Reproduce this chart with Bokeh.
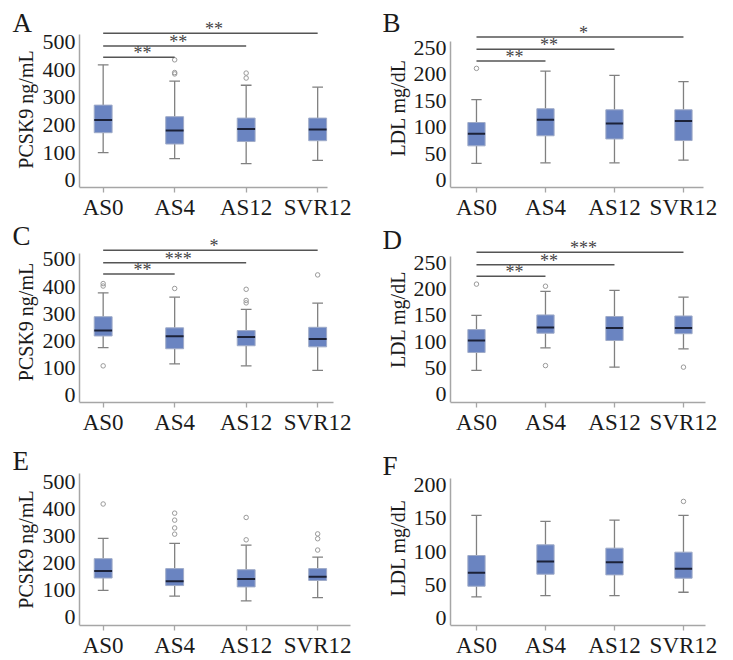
import math
from bokeh.plotting import figure
from bokeh.layouts import column, row
from bokeh.models import Range1d, FixedTicker, Label, ColumnDataSource
from bokeh.core.properties import value
from bokeh.embed import file_html
from bokeh.resources import INLINE

categories = ["AS0", "AS4", "AS12", "SVR12"]

pcsk9_ticks = [0, 100, 200, 300, 400, 500]
ldl_ticks = [0, 50, 100, 150, 200, 250]
ldl_ticks_f = [0, 50, 100, 150, 200]

# Panel A (PCSK9)
a_lower = [100, 78, 60, 72]
a_q1 = [172, 131, 140, 143]
a_median = [218, 180, 185, 184]
a_q3 = [272, 230, 225, 225]
a_upper = [418, 359, 344, 337]
a_out_cat = ["AS4", "AS4", "AS4", "AS12", "AS12"]
a_out_val = [436, 390, 385, 388, 370]
a_sig_to = ["AS4", "AS12", "SVR12"]
a_sig_y = [445, 486, 532]
a_sig_text = ["**", "**", "**"]

# Panel B (LDL)
b_lower = [32, 33, 33, 38]
b_q1 = [65, 84, 78, 75]
b_median = [88, 114, 107, 112]
b_q3 = [109, 135, 133, 133]
b_upper = [152, 206, 198, 186]
b_out_cat = ["AS0"]
b_out_val = [211]
b_sig_to = ["AS4", "AS12", "SVR12"]
b_sig_y = [225, 247, 270]
b_sig_text = ["**", "**", "*"]

# Panel C (PCSK9)
c_lower = [175, 115, 108, 91]
c_q1 = [218, 171, 182, 178]
c_median = [238, 217, 214, 207]
c_q3 = [289, 248, 238, 250]
c_upper = [377, 361, 316, 339]
c_out_cat = ["AS0", "AS0", "AS0", "AS4", "AS12", "AS12", "AS12", "SVR12"]
c_out_val = [411, 402, 108, 393, 390, 349, 340, 443]
c_sig_to = ["AS4", "AS12", "SVR12"]
c_sig_y = [446, 488, 534]
c_sig_text = ["**", "***", "*"]

# Panel D (LDL)
d_lower = [45, 88, 51, 86]
d_q1 = [79, 116, 102, 115]
d_median = [102, 127, 126, 126]
d_q3 = [123, 151, 148, 149]
d_upper = [150, 196, 198, 185]
d_out_cat = ["AS0", "AS4", "AS4", "SVR12"]
d_out_val = [210, 206, 54, 51]
d_sig_to = ["AS4", "AS12", "SVR12"]
d_sig_y = [225, 247, 271]
d_sig_text = ["**", "**", "***"]

# Panel E (PCSK9)
e_lower = [99, 78, 60, 72]
e_q1 = [145, 117, 112, 136]
e_median = [171, 133, 141, 150]
e_q3 = [217, 180, 176, 180]
e_upper = [292, 274, 267, 223]
e_out_cat = ["AS0", "AS4", "AS4", "AS4", "AS4", "AS12", "AS12", "SVR12", "SVR12", "SVR12"]
e_out_val = [420, 386, 360, 331, 308, 370, 287, 309, 291, 249]

# Panel F (LDL)
f_lower = [32, 34, 34, 39]
f_q1 = [48, 66, 65, 60]
f_median = [68, 85, 84, 74]
f_q3 = [94, 110, 105, 99]
f_upper = [154, 145, 147, 154]
f_out_cat = ["SVR12"]
f_out_val = [175]

FONT = "Liberation Serif"
BOX = "#6a84c1"
BOX_EDGE = "#9fabc8"
MEDIAN = "#1c2238"
WHISKER = "#808080"
OUTLIER = "#9a9a9a"
AXIS = "#a6a6a6"
SIG = "#555555"
STAR = "#444444"
TEXT = "#1a1a1a"

# layout of the two columns (x range, y-axis position, text positions)
COLS = [
    dict(width=366, xr=(-1.436, 3.683), yloc=-0.331, letter_x=12, ylab_x=25.5),
    dict(width=367, xr=(-1.594, 3.725), yloc=-0.377, letter_x=16, ylab_x=31),
]
ROWS = [
    dict(height=222, bottom=29),
    dict(height=215, bottom=29),
    dict(height=223, bottom=33),
]

positions = list(range(len(categories)))


def make_panel(letter, ylabel, lower, q1, med, q3, upper, out_cat, out_val,
               sig_to, sig_y, sig_text, yr, ticks, ytop, xend, col, rw, letter_y, ylab_y):
    cfg = COLS[col]
    rc = ROWS[rw]
    p = figure(x_range=Range1d(*cfg["xr"]), y_range=Range1d(yr[0], yr[1]),
               width=cfg["width"], height=rc["height"],
               output_backend="svg", toolbar_location=None,
               min_border_left=0, min_border_right=0,
               min_border_top=0, min_border_bottom=rc["bottom"])
    p.outline_line_color = None
    p.grid.visible = False
    p.background_fill_color = "white"
    p.border_fill_color = "white"

    src = ColumnDataSource(dict(x=positions, lower=lower, q1=q1, med=med, q3=q3, upper=upper))
    p.segment(x0="x", y0="q3", x1="x", y1="upper", source=src, line_color=WHISKER, line_width=1.3)
    p.segment(x0="x", y0="lower", x1="x", y1="q1", source=src, line_color=WHISKER, line_width=1.3)
    p.vbar(x="x", top="upper", bottom="upper", width=0.15, source=src, line_color=WHISKER, line_width=1.3, fill_color=None)
    p.vbar(x="x", top="lower", bottom="lower", width=0.15, source=src, line_color=WHISKER, line_width=1.3, fill_color=None)
    p.vbar(x="x", top="q3", bottom="q1", width=0.25, source=src, fill_color=BOX, line_color=BOX_EDGE, line_width=1)
    p.vbar(x="x", top="med", bottom="med", width=0.25, source=src, line_color=MEDIAN, line_width=2, fill_color=None)
    if out_cat:
        p.scatter(x=[categories.index(c) for c in out_cat], y=out_val, marker="circle", size=4.5,
                  fill_color=None, line_color=OUTLIER, line_width=1)

    if sig_to:
        x1 = [categories.index(t) for t in sig_to]
        p.segment(x0=[0] * len(sig_to), y0=sig_y, x1=x1, y1=sig_y, line_color=SIG, line_width=1.5)
        p.text(x=[v / 2 + 0.05 for v in x1], y=sig_y, text=sig_text, text_font=value(FONT),
               text_font_size="18px", text_color=STAR, text_align="center",
               text_baseline="alphabetic", y_offset=-4)

    for ax in (p.xaxis, p.yaxis):
        ax.axis_line_color = AXIS
        ax.axis_line_width = 1.5
        ax.minor_tick_line_color = None
        ax.major_label_text_font = FONT
        ax.major_label_text_color = TEXT
    p.xaxis.ticker = FixedTicker(ticks=positions)
    p.xaxis.major_label_overrides = {i: c for i, c in zip(positions, categories)}
    p.xaxis.major_tick_line_color = AXIS
    p.xaxis.major_tick_line_width = 1.3
    p.xaxis.major_tick_out = 5
    p.xaxis.major_tick_in = 0
    p.xaxis.major_label_text_font_size = "23px"
    p.xaxis.major_label_standoff = 2
    p.xaxis.bounds = (cfg["yloc"], xend)

    p.yaxis.fixed_location = cfg["yloc"]
    p.yaxis.ticker = FixedTicker(ticks=ticks)
    p.yaxis.major_tick_line_color = None
    p.yaxis.major_tick_out = 0
    p.yaxis.major_tick_in = 0
    p.yaxis.major_label_text_font_size = "22px"
    p.yaxis.major_label_standoff = 4
    p.yaxis.bounds = (yr[0], ytop)

    p.add_layout(Label(x=cfg["ylab_x"], y=ylab_y, x_units="screen", y_units="screen", text=ylabel,
                       angle=math.pi / 2, text_font=FONT, text_font_size="20px", text_color=TEXT,
                       text_align="center", text_baseline="alphabetic"))
    p.add_layout(Label(x=cfg["letter_x"], y=letter_y, x_units="screen", y_units="screen", text=letter,
                       text_font=FONT, text_font_size="27px", text_color=TEXT,
                       text_align="left", text_baseline="alphabetic"))
    return p


pA = make_panel("A", "PCSK9 ng/mL", a_lower, a_q1, a_median, a_q3, a_upper, a_out_cat, a_out_val,
                a_sig_to, a_sig_y, a_sig_text, (-26.5, 651), pcsk9_ticks, 527, 3.14, 0, 0, 165, 78)
pB = make_panel("B", "LDL mg/dL", b_lower, b_q1, b_median, b_q3, b_upper, b_out_cat, b_out_val,
                b_sig_to, b_sig_y, b_sig_text, (-13.5, 339), ldl_ticks, 262, 3.29, 1, 0, 165, 79.5)
pC = make_panel("C", "PCSK9 ng/mL", c_lower, c_q1, c_median, c_q3, c_upper, c_out_cat, c_out_val,
                c_sig_to, c_sig_y, c_sig_text, (-27, 636), pcsk9_ticks, 520, 3.22, 0, 1, 167, 80.5)
pD = make_panel("D", "LDL mg/dL", d_lower, d_q1, d_median, d_q3, d_upper, d_out_cat, d_out_val,
                d_sig_to, d_sig_y, d_sig_text, (-16.7, 328), ldl_ticks, 262, 3.32, 1, 1, 163, 83)
pE = make_panel("E", "PCSK9 ng/mL", e_lower, e_q1, e_median, e_q3, e_upper, e_out_cat, e_out_val,
                [], [], [], (-31.3, 667), pcsk9_ticks, 535, 3.46, 0, 2, 165, 76)
pF = make_panel("F", "LDL mg/dL", f_lower, f_q1, f_median, f_q3, f_upper, f_out_cat, f_out_val,
                [], [], [], (-10.8, 270.7), ldl_ticks_f, 210, 3.32, 1, 2, 160, 77.5)

layout = column(row(pA, pB), row(pC, pD), row(pE, pF))
open("out.html", "w").write(file_html(layout, INLINE))
